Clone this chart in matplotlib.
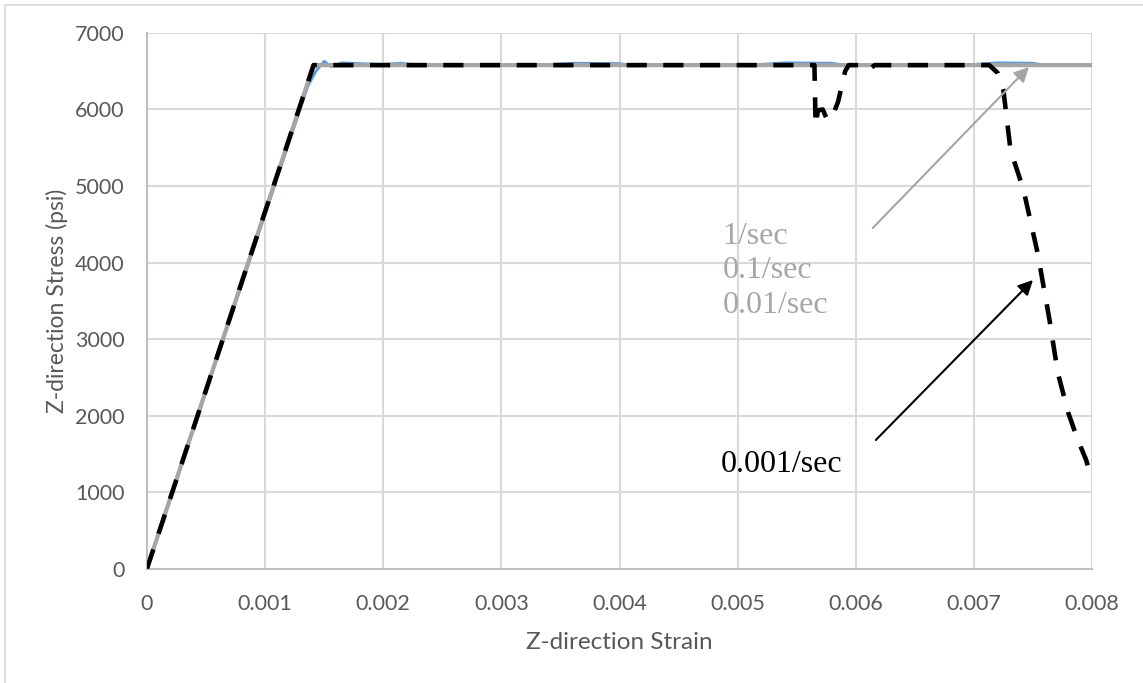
import matplotlib.pyplot as plt
from matplotlib.patches import Rectangle

# strain / stress curves for each loading rate
strain_1 = [0, 0.00141, 0.008]
stress_1 = [0, 6580, 6580]

strain_01 = [0, 0.00136, 0.00143, 0.00150, 0.00156, 0.00165, 0.00180, 0.00200, 0.00215,
             0.00230, 0.00330, 0.00360, 0.00400, 0.00410, 0.00510, 0.00540, 0.00580,
             0.00590, 0.00690, 0.00720, 0.00750, 0.00760, 0.008]
stress_01 = [0, 6300, 6500, 6630, 6560, 6610, 6600, 6590, 6605, 6580, 6580, 6605,
             6600, 6580, 6580, 6610, 6605, 6580, 6580, 6610, 6605, 6580, 6580]

strain_0001 = [0, 0.00141, 0.00565, 0.00566, 0.00568, 0.00572, 0.00576, 0.00580, 0.00585,
               0.00591, 0.00594, 0.00610, 0.00612, 0.00616, 0.00713, 0.00720, 0.00725,
               0.00731, 0.00742, 0.00754, 0.00764, 0.00771, 0.00780, 0.00788, 0.00795, 0.008]
stress_0001 = [0, 6580, 6580, 5790, 5990, 6000, 5860, 5900, 6100, 6500, 6580, 6580, 6530,
               6580, 6580, 6480, 6250, 5470, 4950, 4120, 3250, 2560, 2030, 1680, 1420, 1150]

x_ticks = [0, 0.001, 0.002, 0.003, 0.004, 0.005, 0.006, 0.007, 0.008]
x_labels = ['0', '0.001', '0.002', '0.003', '0.004', '0.005', '0.006', '0.007', '0.008']
y_ticks = [0, 1000, 2000, 3000, 4000, 5000, 6000, 7000]

fig = plt.figure(figsize=(11.43, 6.83), dpi=100)
ax = fig.add_axes([0.1286, 0.1676, 0.8268, 0.7841])

# outer frame of the chart area
fig.patches.append(Rectangle((0.0045, -0.01), 1.0, 1.003, transform=fig.transFigure,
                             fill=False, edgecolor='#d9d9d9', lw=1.2))

ax.plot(strain_01, stress_01, color='#5b9bd5', lw=2.0, zorder=3)
ax.plot(strain_1, stress_1, color='#a5a5a5', lw=3.0, zorder=4)
ax.plot(strain_0001, stress_0001, color='black', lw=3.3, zorder=5,
        linestyle=(0, (4.4, 3.6)))

ax.set_xlim(0, 0.008)
ax.set_ylim(0, 7000)
ax.set_xticks(x_ticks)
ax.set_xticklabels(x_labels)
ax.set_yticks(y_ticks)
ax.grid(True, color='#d9d9d9', lw=1.5)
ax.set_axisbelow(True)
for side in ['top', 'right']:
    ax.spines[side].set_visible(False)
for side in ['left', 'bottom']:
    ax.spines[side].set_color('#bfbfbf')
    ax.spines[side].set_linewidth(1.5)
ax.tick_params(length=0, colors='#595959', labelsize=15.5)
ax.tick_params(axis='x', pad=18)
ax.tick_params(axis='y', pad=16)
for lbl in ax.get_xticklabels() + ax.get_yticklabels():
    lbl.set_family('Lato')

ax.set_xlabel('Z-direction Strain', family='Lato', fontsize=17.5, color='#595959', labelpad=13)
ax.set_ylabel('Z-direction Stress (psi)', family='Lato', fontsize=16.5, color='#595959', labelpad=5)

# rate labels with arrows
gray_txt = '#a6a6a6'
ax.text(0.004873, 4346, '1/sec', family='Liberation Serif', fontsize=23, color=gray_txt, va='center')
ax.text(0.004873, 3902, '0.1/sec', family='Liberation Serif', fontsize=23, color=gray_txt, va='center')
ax.text(0.004873, 3444, '0.01/sec', family='Liberation Serif', fontsize=23, color=gray_txt, va='center')
ax.text(0.004856, 1366, '0.001/sec', family='Liberation Serif', fontsize=23, color='black', va='center')

ax.annotate('', xy=(0.007466, 6556), xytext=(0.006144, 4451),
            arrowprops=dict(arrowstyle='-|>', color='#a5a5a5', lw=1.5, mutation_scale=22,
                            shrinkA=0, shrinkB=0), zorder=6)
ax.annotate('', xy=(0.0075, 3771), xytext=(0.00617, 1680),
            arrowprops=dict(arrowstyle='-|>', color='black', lw=1.5, mutation_scale=22,
                            shrinkA=0, shrinkB=0), zorder=6)

fig.savefig('out.png', dpi=100)
